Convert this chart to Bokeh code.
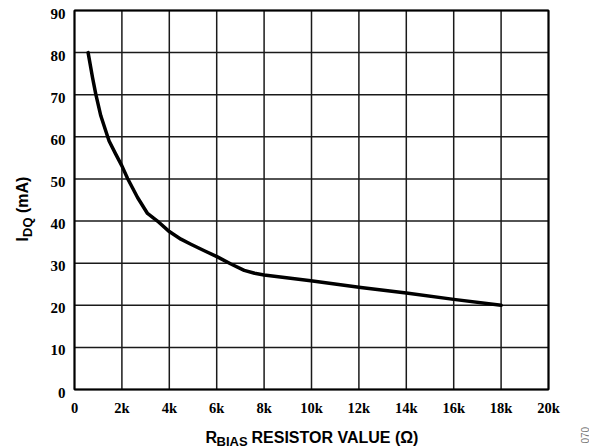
import math
from bokeh.plotting import figure
from bokeh.models import Range1d, Label, LabelSet, ColumnDataSource
from bokeh.embed import file_html
from bokeh.resources import INLINE

# ---- data ----
r_bias = [574, 760, 900, 1110, 1390, 1460, 1740, 2000, 2240, 2660, 3080, 3500,
          4000, 4490, 4910, 5500, 6030, 6600, 7160, 7600, 8000, 9970, 12080,
          14000, 16000, 18000]
i_dq = [80.0, 74.1, 70.1, 65.0, 60.2, 59.0, 55.9, 53.1, 50.1, 45.6, 41.8, 40.0,
        37.5, 35.7, 34.5, 32.9, 31.5, 29.8, 28.3, 27.6, 27.2, 25.8, 24.2,
        22.9, 21.4, 20.0]
x_ticks = [0, 2000, 4000, 6000, 8000, 10000, 12000, 14000, 16000, 18000, 20000]
x_tick_labels = ["0", "2k", "4k", "6k", "8k", "10k", "12k", "14k", "16k", "18k", "20k"]
y_ticks = [0, 10, 20, 30, 40, 50, 60, 70, 80, 90]
y_tick_labels = [str(v) for v in y_ticks]

FONT = "Liberation Sans"
W, H = 589, 448
# plot box placement in page pixels
LEFT, RIGHT, TOP, BOTTOM = 74, 548, 10, 389

x0, x1 = x_ticks[0], x_ticks[-1]
y0, y1 = y_ticks[0], y_ticks[-1]
sx = (RIGHT - LEFT) / (x1 - x0)
sy = (BOTTOM - TOP) / (y1 - y0)
xr = Range1d(x0 - LEFT / sx, x1 + (W - RIGHT) / sx)
yr = Range1d(y0 - (H - BOTTOM) / sy, y1 + TOP / sy)

p = figure(width=W, height=H, output_backend="svg", toolbar_location=None,
           x_range=xr, y_range=yr, x_axis_location=None, y_axis_location=None,
           min_border=0)
p.outline_line_color = None
p.background_fill_color = "white"
p.border_fill_color = "white"
p.grid.visible = False

# grid lines from the tick arrays
p.segment(x0=x_ticks, y0=[y0] * len(x_ticks), x1=x_ticks, y1=[y1] * len(x_ticks),
          line_color="#1a1a1a", line_width=1.5)
p.segment(x0=[x0] * len(y_ticks), y0=y_ticks, x1=[x1] * len(y_ticks), y1=y_ticks,
          line_color="#1a1a1a", line_width=1.5)
# plot border
p.quad(left=[x0], right=[x1], bottom=[y0], top=[y1], fill_color=None,
       line_color="black", line_width=2)

# curve
p.line(r_bias, i_dq, line_color="black", line_width=3.5, line_join="round",
       line_cap="round")

# tick labels
xsrc = ColumnDataSource(dict(x=x_ticks, y=[y0] * len(x_ticks), t=x_tick_labels))
p.add_layout(LabelSet(x="x", y="y", text="t", source=xsrc, y_offset=-18,
                      text_align="center", text_baseline="middle",
                      text_font=FONT, text_font_style="bold",
                      text_font_size="14.5px", text_color="black"))
ysrc = ColumnDataSource(dict(x=[x0] * len(y_ticks), y=y_ticks, t=y_tick_labels))
p.add_layout(LabelSet(x="x", y="y", text="t", source=ysrc, x_offset=-9, y_offset=-3,
                      text_align="right", text_baseline="middle",
                      text_font=FONT, text_font_style="bold",
                      text_font_size="15px", text_color="black"))


def lab(text, px, py, size, angle=0.0, color="black", style="bold"):
    # px, py: page pixel position (from top-left) of the text's start on its baseline
    p.add_layout(Label(x=px, y=H - py, x_units="screen", y_units="screen", text=text,
                       text_font=FONT, text_font_style=style, text_font_size=size,
                       text_color=color, text_align="left",
                       text_baseline="alphabetic", angle=angle))


# x-axis title with subscript
lab("R", 205, 437, "16px")
lab("BIAS", 216, 441, "13px")
lab("RESISTOR VALUE (Ω)", 251, 437, "16px")

# y-axis title with subscript (rotated)
lab("I", 22, 241, "16px", angle=math.pi / 2)
lab("DQ", 26.5, 236.5, "13px", angle=math.pi / 2)
lab("(mA)", 22, 212.5, "16px", angle=math.pi / 2)

# figure id
lab("070", 584, 443, "10px", angle=math.pi / 2, color="#777777", style="normal")

open("out.html", "w").write(file_html(p, INLINE))
